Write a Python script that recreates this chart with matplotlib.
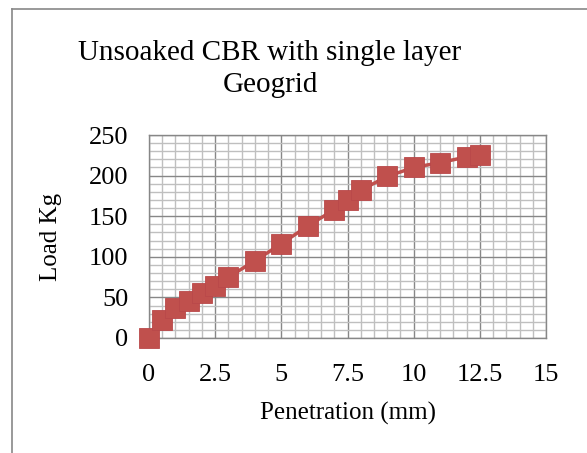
import matplotlib
matplotlib.use("Agg")
import matplotlib.pyplot as plt
from matplotlib.lines import Line2D
from matplotlib.ticker import MultipleLocator

# data
penetration = [0, 0.5, 1, 1.5, 2, 2.5, 3, 4, 5, 6, 7, 7.5, 8, 9, 10, 11, 12, 12.5]
load = [0, 22, 37, 46, 55, 64, 75, 95, 116, 138, 158, 170, 182, 199, 210, 216, 223, 225]

plt.rcParams['font.family'] = ['Liberation Serif', 'DejaVu Serif']

W, H = 587, 453
fig = plt.figure(figsize=(W / 100, H / 100), dpi=100)

# axes placed in pixel terms
left, right, top, bottom = 149, 546, 135, 338
ax = fig.add_axes([left / W, (H - bottom) / H, (right - left) / W, (bottom - top) / H])

ax.plot(penetration, load, color='#C0504D', lw=2.5, marker='s', markersize=14.5,
        markeredgecolor='#B9484A', markeredgewidth=0.6, clip_on=False, zorder=5)

ax.set_xlim(0, 15)
ax.set_ylim(0, 250)
ax.xaxis.set_major_locator(MultipleLocator(2.5))
ax.xaxis.set_minor_locator(MultipleLocator(0.5))
ax.yaxis.set_major_locator(MultipleLocator(50))
ax.yaxis.set_minor_locator(MultipleLocator(10))
ax.set_xticks([0, 2.5, 5, 7.5, 10, 12.5, 15])
ax.set_xticklabels(['0', '2.5', '5', '7.5', '10', '12.5', '15'])

ax.grid(which='minor', color='#bfbfbf', lw=1.0)
ax.grid(which='major', color='#878787', lw=1.0)
ax.set_axisbelow(True)
for s in ax.spines.values():
    s.set_color('#878787')
    s.set_linewidth(1.0)

ax.tick_params(which='both', length=0, labelsize=19)
ax.tick_params(axis='x', pad=19)
ax.tick_params(axis='y', pad=15)

ax.set_xlabel('Penetration (mm)', fontsize=18, labelpad=11)
ax.set_ylabel('Load Kg', fontsize=18, labelpad=19)

fig.text(270 / W, 1 - 69 / H, 'Unsoaked CBR with single layer\nGeogrid',
         ha='center', va='center', fontsize=21, linespacing=1.3)

# chart area border (left and top edges visible)
fig.add_artist(Line2D([12 / W, 12 / W], [0, 1 - 9 / H], color='#888888', lw=1.2,
                      transform=fig.transFigure))
fig.add_artist(Line2D([12 / W, 1], [1 - 9 / H, 1 - 9 / H], color='#888888', lw=1.2,
                      transform=fig.transFigure))

fig.savefig('out.png', dpi=100)
